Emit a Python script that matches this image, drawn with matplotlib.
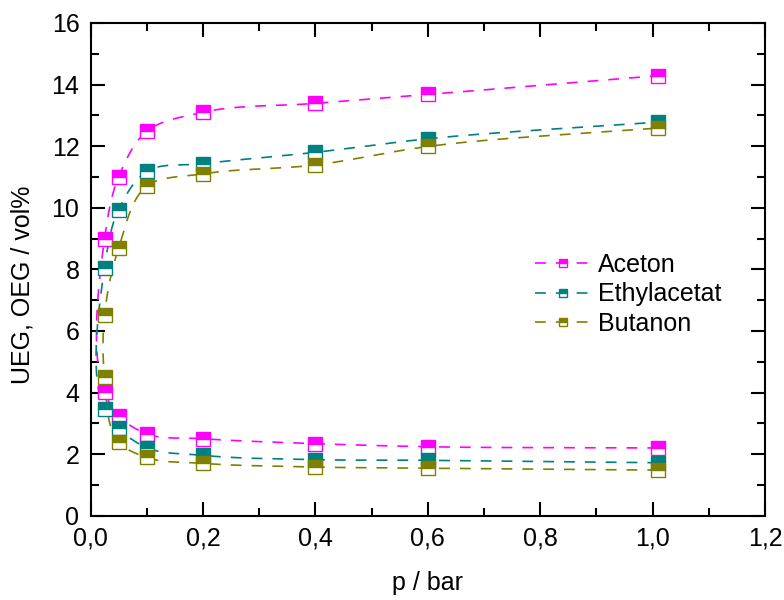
import numpy as np
import matplotlib
matplotlib.use("Agg")
import matplotlib.pyplot as plt
from matplotlib.ticker import MultipleLocator, FuncFormatter

plt.rcParams['font.family'] = ['Liberation Sans', 'DejaVu Sans']

# ---- data ----
p_values = [0.025, 0.05, 0.1, 0.2, 0.4, 0.6, 1.01]
series_names = ["Aceton", "Ethylacetat", "Butanon"]
series_colors = ["#FF00FF", "#008080", "#808000"]

aceton_oeg = [8.99, 11.0, 12.48, 13.1, 13.39, 13.68, 14.29]
aceton_ueg = [4.02, 3.24, 2.66, 2.5, 2.34, 2.24, 2.2]
ethyl_oeg = [8.05, 9.94, 11.18, 11.43, 11.8, 12.24, 12.78]
ethyl_ueg = [3.47, 2.84, 2.21, 1.96, 1.82, 1.8, 1.72]
butanon_oeg = [6.52, 8.69, 10.7, 11.1, 11.39, 11.99, 12.59]
butanon_ueg = [4.51, 2.39, 1.89, 1.7, 1.58, 1.54, 1.48]

oeg = [aceton_oeg, ethyl_oeg, butanon_oeg]
ueg = [aceton_ueg, ethyl_ueg, butanon_ueg]

x_ticks = [0.0, 0.2, 0.4, 0.6, 0.8, 1.0, 1.2]
y_ticks = [0, 2, 4, 6, 8, 10, 12, 14, 16]


def smooth_path(xs, ys, sx, sy, n=30, alpha=0.8):
    """Catmull-Rom curve through the given points (display-scaled)."""
    P = np.column_stack([np.asarray(xs) * sx, np.asarray(ys) * sy])
    P = np.vstack([2 * P[0] - P[1], P, 2 * P[-1] - P[-2]])
    out = []
    for i in range(1, len(P) - 2):
        p0, p1, p2, p3 = P[i - 1], P[i], P[i + 1], P[i + 2]
        t0 = 0.0
        t1 = t0 + np.linalg.norm(p1 - p0) ** alpha + 1e-9
        t2 = t1 + np.linalg.norm(p2 - p1) ** alpha + 1e-9
        t3 = t2 + np.linalg.norm(p3 - p2) ** alpha + 1e-9
        t = np.linspace(t1, t2, n)[:, None]
        A1 = (t1 - t) / (t1 - t0) * p0 + (t - t0) / (t1 - t0) * p1
        A2 = (t2 - t) / (t2 - t1) * p1 + (t - t1) / (t2 - t1) * p2
        A3 = (t3 - t) / (t3 - t2) * p2 + (t - t2) / (t3 - t2) * p3
        B1 = (t2 - t) / (t2 - t0) * A1 + (t - t0) / (t2 - t0) * A2
        B2 = (t3 - t) / (t3 - t1) * A2 + (t - t1) / (t3 - t1) * A3
        C = (t2 - t) / (t2 - t1) * B1 + (t - t1) / (t2 - t1) * B2
        out.append(C if i == 1 else C[1:])
    C = np.vstack(out)
    return C[:, 0] / sx, C[:, 1] / sy


fig = plt.figure(figsize=(7.84, 6.0), dpi=100)
L, R, T, B = 90.5, 765.0, 23.0, 515.7
ax = fig.add_axes([L / 784, (600 - B) / 600, (R - L) / 784, (B - T) / 600])

sx = (R - L) / 1.2
sy = (B - T) / 16.0
dash = (0, (6.5, 6.0))

for name, col, up, lo in zip(series_names, series_colors, oeg, ueg):
    xs = list(p_values[::-1]) + list(p_values)
    ys = list(lo[::-1]) + list(up)
    cx, cy = smooth_path(xs, ys, sx, sy)
    ax.plot(cx, cy, linestyle=dash, color=col, lw=1.2, zorder=2)
    for vals in (up, lo):
        ax.plot(p_values, vals, linestyle='none', marker='s', markersize=9.6,
                fillstyle='top', markerfacecolor=col, markerfacecoloralt='white',
                markeredgecolor=col, markeredgewidth=1.0, zorder=3)
    # legend handle
    ax.plot([], [], linestyle=dash, color=col, lw=1.2, marker='s', markersize=9.6,
            fillstyle='top', markerfacecolor=col, markerfacecoloralt='white',
            markeredgecolor=col, markeredgewidth=1.0, label=name)

ax.set_xlim(0, 1.2)
ax.set_ylim(0, 16)
ax.set_xticks(x_ticks)
ax.set_yticks(y_ticks)
ax.xaxis.set_minor_locator(MultipleLocator(0.1))
ax.yaxis.set_minor_locator(MultipleLocator(1))
ax.xaxis.set_major_formatter(FuncFormatter(lambda v, _: f"{v:.1f}".replace('.', ',')))
ax.yaxis.set_major_formatter(FuncFormatter(lambda v, _: f"{v:.0f}"))

ax.tick_params(which='both', direction='in', top=True, right=True,
               labelsize=18, width=1.5)
ax.tick_params(which='major', length=10, pad=8)
ax.tick_params(which='minor', length=6)
for s in ax.spines.values():
    s.set_linewidth(1.5)

ax.set_xlabel("p / bar", fontsize=18)
ax.set_ylabel("UEG, OEG / vol%", fontsize=18)
ax.xaxis.set_label_coords(0.5, (B - 571) / (B - T))
ax.yaxis.set_label_coords((35 - L) / (R - L), (B - 285) / (B - T))

leg = ax.legend(loc='upper left', bbox_to_anchor=((535 - L) / (R - L), (B - 253) / (B - T)),
                frameon=False, fontsize=18, markerscale=0.6, handlelength=2.2,
                handletextpad=0.3, labelspacing=0.22, borderpad=0, borderaxespad=0)

fig.savefig("out.png", dpi=100)
